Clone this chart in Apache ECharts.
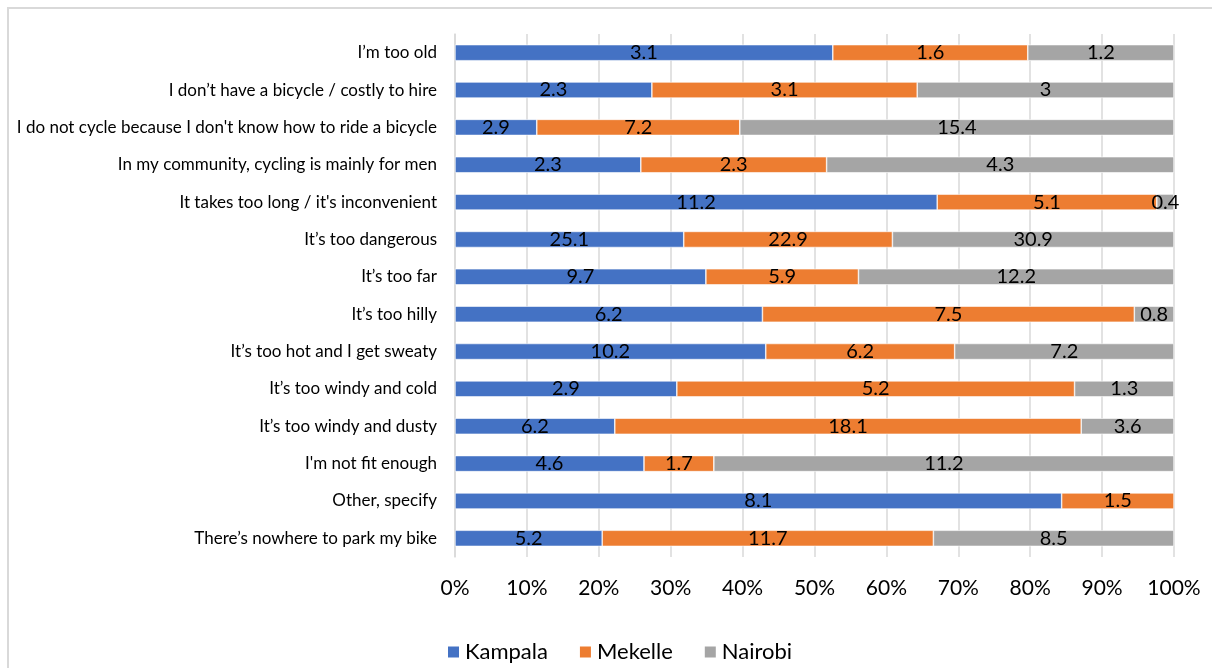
<!DOCTYPE html>
<html>
<head>
<meta charset="utf-8">
<script src="https://cdn.jsdelivr.net/npm/echarts@6/dist/echarts.min.js"></script>
<style>
  html, body { margin: 0; padding: 0; background: #fff; overflow: hidden; }
  #frame { position: absolute; left: 7px; top: 7px; width: 1230px; height: 700px;
           border: 2px solid #d9d9d9; box-sizing: border-box; }
  #chart { position: absolute; left: 0; top: 0; width: 1212px; height: 668px; }
</style>
</head>
<body>
<div id="frame"></div>
<div id="chart"></div>
<script>
// Reasons for not cycling, by city (counts shown; bars scaled to 100% per reason)
const categories = [
  'I\u2019m too old',
  'I don\u2019t have a bicycle / costly to hire',
  "I do not cycle because I don't know how to ride a bicycle",
  'In my community, cycling is mainly for men',
  "It takes too long / it's inconvenient",
  'It\u2019s too dangerous',
  'It\u2019s too far',
  'It\u2019s too hilly',
  'It\u2019s too hot and I get sweaty',
  'It\u2019s too windy and cold',
  'It\u2019s too windy and dusty',
  "I'm not fit enough",
  'Other, specify',
  'There\u2019s nowhere to park my bike'
];
const kampala = [3.1, 2.3, 2.9, 2.3, 11.2, 25.1, 9.7, 6.2, 10.2, 2.9, 6.2, 4.6, 8.1, 5.2];
const mekelle = [1.6, 3.1, 7.2, 2.3, 5.1, 22.9, 5.9, 7.5, 6.2, 5.2, 18.1, 1.7, 1.5, 11.7];
const nairobi = [1.2, 3, 15.4, 4.3, 0.4, 30.9, 12.2, 0.8, 7.2, 1.3, 3.6, 11.2, null, 8.5];
const tickLabels = ['0%', '10%', '20%', '30%', '40%', '50%', '60%', '70%', '80%', '90%', '100%'];

const FONT = 'Lato';
const raw = [kampala, mekelle, nairobi];
const totals = categories.map((_, i) => raw.reduce((s, arr) => s + (arr[i] || 0), 0));
const share = arr => arr.map((v, i) => (v == null ? null : { value: v / totals[i] * 100, raw: v }));

const makeSeries = (name, arr, color) => ({
  name,
  type: 'bar',
  stack: 'total',
  barWidth: '43%',
  data: share(arr),
  itemStyle: { color, borderColor: '#ffffff', borderWidth: 0.6 },
  label: {
    show: true,
    position: 'inside',
    color: '#000',
    fontFamily: FONT,
    fontSize: 20,
    formatter: p => (p.data && p.data.raw != null ? String(p.data.raw) : '')
  },
  emphasis: { disabled: true }
});

const chart = echarts.init(document.getElementById('chart'), null, { renderer: 'canvas' });
chart.setOption({
  animation: false,
  textStyle: { fontFamily: FONT },
  grid: { left: 455, right: 38, top: 34, bottom: 111, containLabel: false },
  xAxis: {
    type: 'value',
    min: 0,
    max: 100,
    interval: 10,
    axisLine: { show: false },
    axisTick: { show: false },
    splitLine: { show: true, lineStyle: { color: '#d9d9d9', width: 1.5 } },
    axisLabel: {
      color: '#000',
      fontFamily: FONT,
      fontSize: 21,
      margin: 21,
      formatter: v => tickLabels[Math.round(v / 10)]
    }
  },
  yAxis: {
    type: 'category',
    inverse: true,
    data: categories,
    axisLine: { show: true, lineStyle: { color: '#d9d9d9', width: 1.5 } },
    axisTick: { show: false },
    axisLabel: { color: '#000', fontFamily: FONT, fontSize: 17, margin: 18 }
  },
  legend: {
    top: 636,
    left: 441,
    itemWidth: 13,
    itemHeight: 13,
    itemGap: 30,
    icon: 'rect',
    textStyle: { color: '#000', fontFamily: FONT, fontSize: 22 },
    data: ['Kampala', 'Mekelle', 'Nairobi']
  },
  series: [
    makeSeries('Kampala', kampala, '#4472c4'),
    makeSeries('Mekelle', mekelle, '#ed7d31'),
    makeSeries('Nairobi', nairobi, '#a5a5a5')
  ]
});
</script>
</body>
</html>
